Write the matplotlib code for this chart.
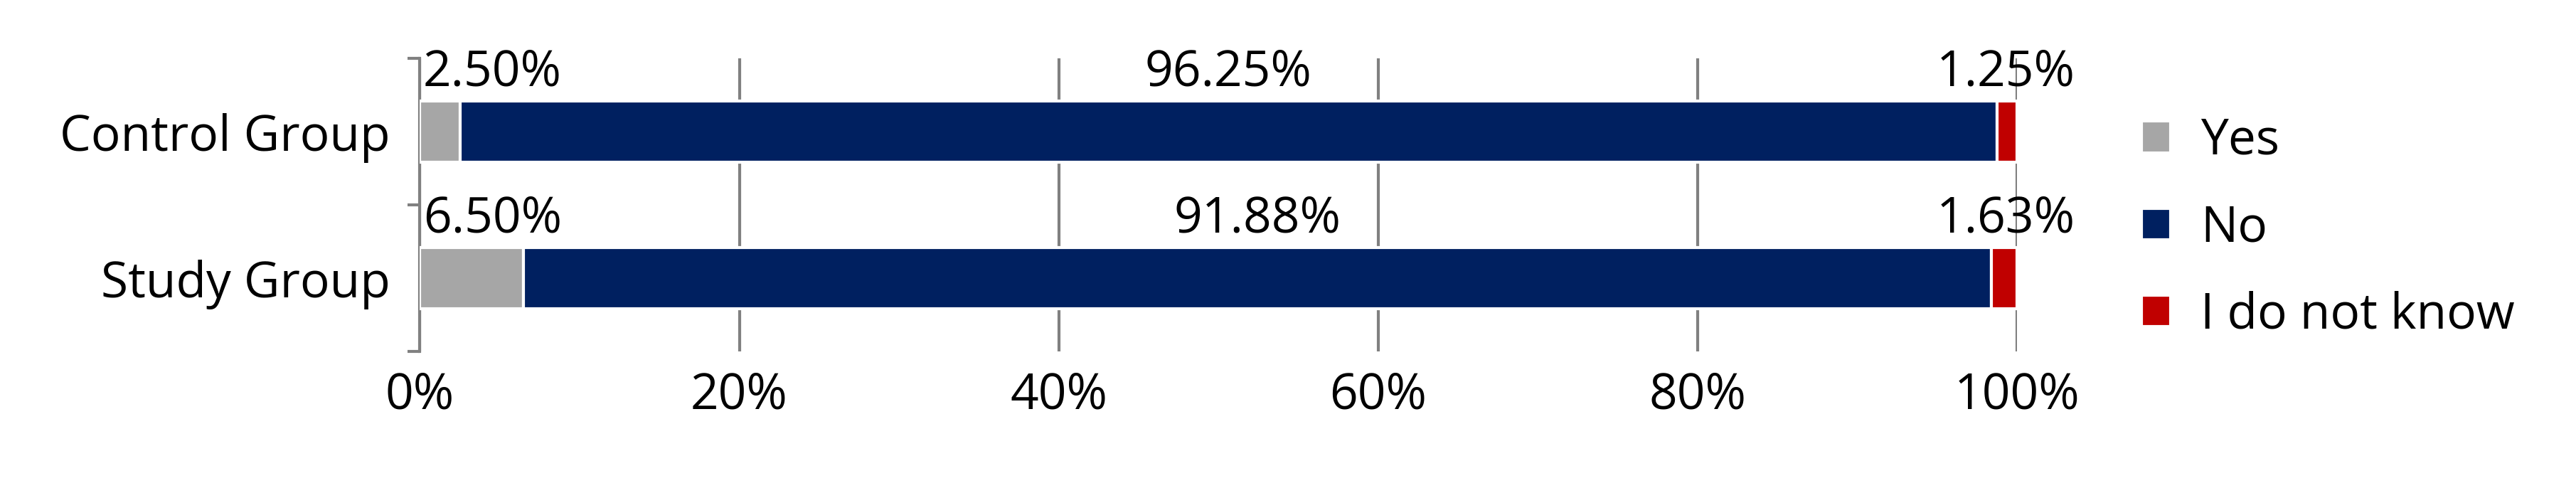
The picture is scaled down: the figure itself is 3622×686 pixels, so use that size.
import matplotlib.pyplot as plt
from matplotlib.ticker import PercentFormatter

groups = ["Study Group", "Control Group"]
yes = [6.50, 2.50]
no = [91.88, 96.25]
dont_know = [1.63, 1.25]
series_names = ["Yes", "No", "I do not know"]
colors = ["#a6a6a6", "#002060", "#c00000"]

plt.rcParams['font.family'] = ['Open Sans', 'DejaVu Sans']
plt.rcParams['ytick.direction'] = 'out'
fig = plt.figure(figsize=(36.22, 6.86), dpi=100)
ax = fig.add_axes([0.163, 0.28, 0.62, 0.6])

h = 0.42
left = [0, 0]
for vals, name, c in zip([yes, no, dont_know], series_names, colors):
    ax.barh(groups, vals, left=left, height=h, color=c, label=name, zorder=3,
            edgecolor="white", linewidth=3)
    left = [l + v for l, v in zip(left, vals)]

fs = 50
for i in range(len(groups)):
    ty = i + h / 2 + 0.02
    ax.text(0.2, ty, f"{yes[i]:.2f}%", ha="left", va="bottom", fontsize=fs)
    ax.text(yes[i] + no[i] / 2, ty, f"{no[i]:.2f}%", ha="center", va="bottom", fontsize=fs)
    ax.text(99.3, ty, f"{dont_know[i]:.2f}%", ha="center", va="bottom", fontsize=fs)

ax.set_xlim(0, 100)
ax.set_ylim(-0.5, 1.5)
ax.xaxis.set_major_formatter(PercentFormatter(decimals=0))
ax.xaxis.grid(True, color="#808080", linewidth=3, zorder=0)
for s in ["top", "right", "bottom"]:
    ax.spines[s].set_visible(False)
ax.spines["left"].set_color("#808080")
ax.spines["left"].set_linewidth(3)
ax.set_yticks([0, 1])
ax.set_yticklabels(groups)
ax.set_yticks([-0.5, 0.5, 1.5], minor=True)
ax.tick_params(axis="y", which="major", length=0, labelsize=fs, pad=30)
ax.tick_params(axis="y", which="minor", length=12, width=3, color="#808080", direction="out", left=True, right=False)
ax.tick_params(axis="x", length=0, labelsize=fs, pad=20)

ax.legend(loc="center left", bbox_to_anchor=(1.05, 0.42), frameon=False, fontsize=fs,
          handlelength=0.6, handleheight=0.6, labelspacing=0.75, handletextpad=0.6)

fig.savefig("out.png")
